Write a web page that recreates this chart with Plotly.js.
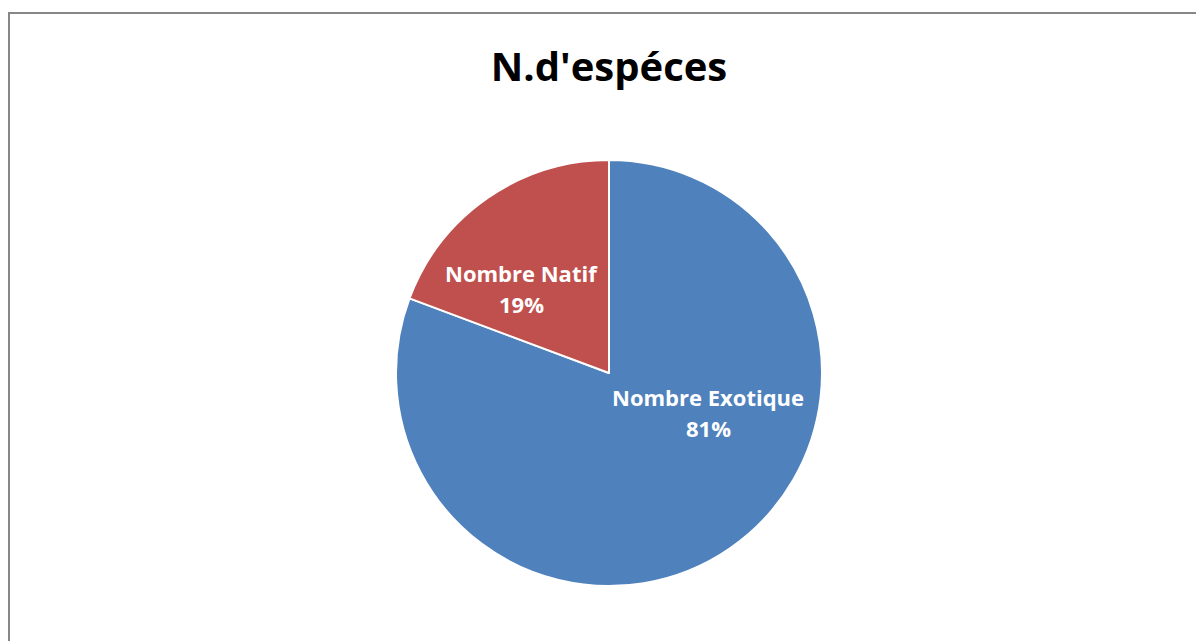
<!DOCTYPE html>
<html>
<head>
<meta charset="utf-8">
<script src="https://cdn.plot.ly/plotly-3.0.1.min.js"></script>
<style>
html,body{margin:0;padding:0;background:#fff;}
#wrap{position:relative;width:1196px;height:641px;overflow:hidden;}
#chart{width:1196px;height:641px;}
#frame{position:absolute;left:8px;top:12px;width:1300px;height:800px;border:2px solid #878787;pointer-events:none;box-sizing:border-box;}
</style>
</head>
<body>
<div id="wrap">
<div id="chart"></div>
<div id="frame"></div>
</div>
<script>
const categories = ["Nombre Exotique", "Nombre Natif"];
const values = [80.7, 19.3];
const colors = ["#4F81BD", "#C0504D"];
const chartTitle = "N.d'espéces";

const W = 1196, H = 641;
const cx = 609, cy = 373, r = 213;
// label anchor positions (pixels) used for the in-slice labels
const labelPos = [[708, 397], [521, 273]];
const lineGap = 31;

const total = values.reduce((a, b) => a + b, 0);
const labelFont = {family: "Open Sans, Liberation Sans, sans-serif", size: 22, color: "#ffffff", weight: "bold"};

const trace = {
  type: "pie",
  labels: categories,
  values: values,
  sort: false,
  direction: "clockwise",
  rotation: 0,
  marker: {colors: colors, line: {color: "#ffffff", width: 2}},
  textinfo: "none",
  hoverinfo: "label+percent",
  showlegend: false,
  domain: {x: [(cx - r) / W, (cx + r) / W], y: [(H - cy - r) / H, (H - cy + r) / H]}
};

const annotations = [];
categories.forEach((c, i) => {
  const pct = Math.round(values[i] / total * 100) + "%";
  const [px, py] = labelPos[i];
  [["<b>" + c + "</b>", py], ["<b>" + pct + "</b>", py + lineGap]].forEach(([t, yy]) => {
    annotations.push({
      text: t, xref: "paper", yref: "paper",
      x: px / W, y: 1 - yy / H, xanchor: "center", yanchor: "middle",
      showarrow: false, font: labelFont
    });
  });
});

const layout = {
  width: W, height: H,
  margin: {l: 0, r: 0, t: 0, b: 0},
  paper_bgcolor: "#ffffff",
  title: {
    text: "<b>" + chartTitle + "</b>",
    font: {family: "Open Sans, Liberation Sans, sans-serif", size: 40, color: "#000000"},
    x: 609 / W, xanchor: "center",
    y: 1 - 67 / H, yanchor: "middle"
  },
  annotations: annotations
};

Plotly.newPlot("chart", [trace], layout, {displayModeBar: false});
</script>
</body>
</html>
